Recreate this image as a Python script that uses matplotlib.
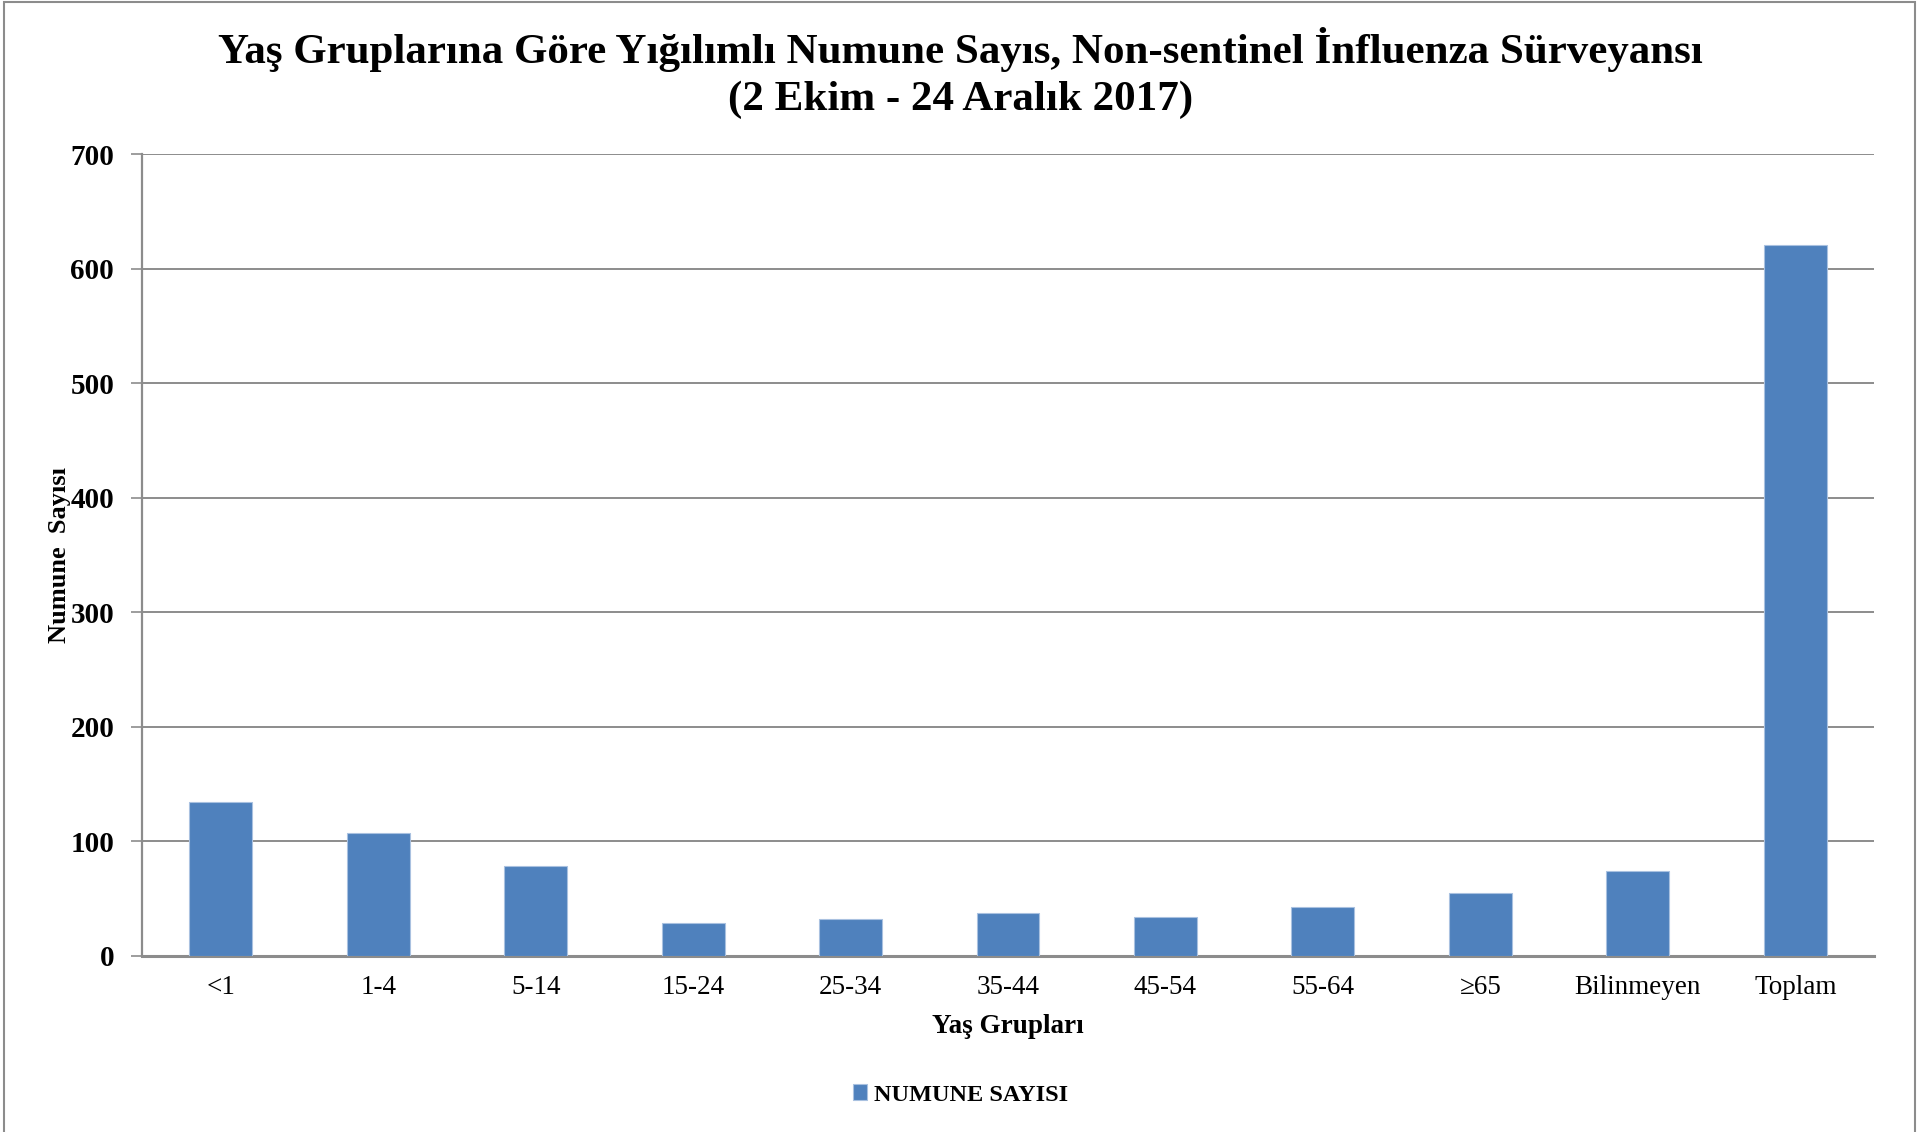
import matplotlib
matplotlib.use("Agg")
import matplotlib.pyplot as plt
from matplotlib.patches import Rectangle

# yaş grupları ve numune sayıları
categories = ["<1", "1-4", "5-14", "15-24", "25-34", "35-44", "45-54",
              "55-64", "≥65", "Bilinmeyen", "Toplam"]
counts = [134, 107, 78, 28, 32, 37, 34, 42, 55, 74, 621]
y_ticks = [0, 100, 200, 300, 400, 500, 600, 700]

bar_color = "#4F81BD"
grid_color = "#8C8C8C"

plt.rcParams['font.family'] = ['Liberation Serif', 'DejaVu Serif']

fig = plt.figure(figsize=(19.21, 11.32), dpi=100)
ax = fig.add_axes([142 / 1921, 1 - 955.5 / 1132, (1874 - 142) / 1921, (955.5 - 154.4) / 1132])

x = list(range(len(categories)))
ax.bar(x, counts, width=0.4, color=bar_color, edgecolor="#A9C1E0", linewidth=0.8,
       label="NUMUNE SAYISI", zorder=3)

ax.set_xlim(-0.5, len(categories) - 0.5)
ax.set_ylim(0, 700)
ax.set_yticks(y_ticks)
ax.set_yticklabels([str(v) for v in y_ticks], fontsize=21, fontweight='bold')
ax.set_xticks(x)
ax.set_xticklabels(categories, fontsize=19.5)
ax.tick_params(axis='x', length=0, pad=14)
ax.tick_params(axis='y', length=8, width=1.2, color=grid_color, pad=12)

ax.grid(axis='y', color=grid_color, linewidth=1.4, zorder=0)
for s in ['top', 'right']:
    ax.spines[s].set_visible(False)
ax.spines['left'].set_color(grid_color)
ax.spines['left'].set_linewidth(1.6)
ax.spines['bottom'].set_color(grid_color)
ax.spines['bottom'].set_linewidth(2.2)

ax.set_xlabel("Yaş Grupları", fontsize=19.5, fontweight='bold', labelpad=10)
ax.set_ylabel("Numune  Sayısı", fontsize=19, fontweight='bold')
ax.yaxis.set_label_coords(-0.041, 0.5)

fig.text(0.5, 1 - 49 / 1132,
         "Yaş Gruplarına Göre Yığılımlı Numune Sayıs, Non-sentinel İnfluenza Sürveyansı",
         ha='center', va='center', fontsize=31, fontweight='bold')
fig.text(0.5, 1 - 100 / 1132, "(2 Ekim - 24 Aralık 2017)",
         ha='center', va='center', fontsize=31, fontweight='bold')

leg = fig.legend(loc='center', bbox_to_anchor=(0.5, 1 - 1095 / 1132), frameon=False,
                 prop={'size': 17.5, 'weight': 'bold'}, handlelength=0.6, handleheight=0.6,
                 handletextpad=0.3)

# çerçeve
fig.add_artist(Rectangle((0.002, -0.01), 0.995, 1.008, transform=fig.transFigure,
                         fill=False, edgecolor="#8C8C8C", linewidth=1.5))

fig.savefig("out.png", dpi=100)
